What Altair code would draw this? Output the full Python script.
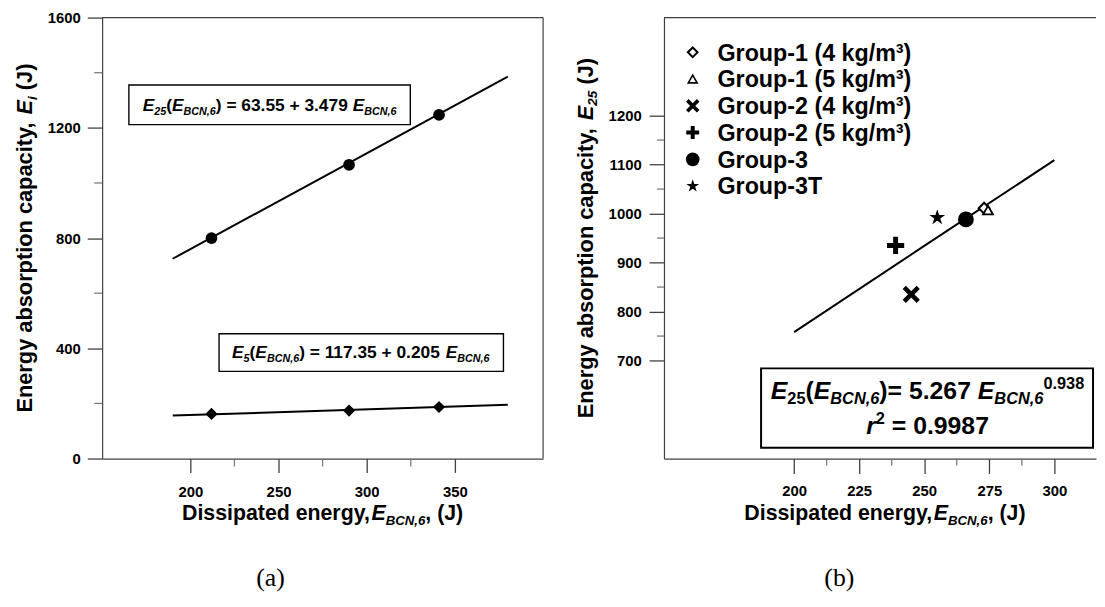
import altair as alt
import pandas as pd

# ---------------- panel (a) data ----------------
a_x = [212, 290, 341]
a_e25 = [800, 1066, 1247]
a_e5 = [162, 174, 187]
a_fit_x = [190, 380]
a_fit_e25 = [725, 1386]
a_fit_e5 = [156, 195]
a_xticks = [200, 250, 300, 350]
a_xminor = [225, 275, 325]
a_yticks = [0, 400, 800, 1200, 1600]
a_yminor = [200, 600, 1000, 1400]

# ---------------- panel (b) data ----------------
groups = ["Group-1 (4 kg/m³)", "Group-1 (5 kg/m³)", "Group-2 (4 kg/m³)",
          "Group-2 (5 kg/m³)", "Group-3", "Group-3T"]
b_x = [273, 274.5, 245, 239, 266, 255]
b_y = [1011, 1007, 835, 935, 988, 992]
b_fit_x = [200, 250, 300]
b_fit_y = [758, 934, 1109]
b_xticks = [200, 225, 250, 275, 300]
b_xminor = [212.5, 237.5, 262.5, 287.5]
b_yticks = [700, 800, 900, 1000, 1100, 1200]
b_yminor = [750, 850, 950, 1050, 1150]

FONT = "Liberation Sans"
SERIF = "Liberation Serif"
AXC = "#404040"
MINC = "#7a7a7a"
ONE = pd.DataFrame({"k": [0]})

W = {' ': 278, '!': 333, '(': 333, ')': 333, '+': 584, ',': 278, '-': 333, '.': 278,
     '/': 278, '=': 584, '³': 333, '²': 333}
for c in "0123456789":
    W[c] = 556
W.update(dict(zip("ABCDEFGHIJKLMNOPQRSTUVWXYZ",
                  [722, 722, 722, 722, 667, 611, 778, 722, 278, 556, 722, 611, 833, 722, 778,
                   667, 778, 722, 667, 611, 722, 667, 944, 667, 667, 611])))
W.update(dict(zip("abcdefghijklmnopqrstuvwxyz",
                  [556, 611, 556, 611, 556, 333, 611, 611, 278, 278, 556, 278, 889, 611, 611,
                   611, 611, 389, 556, 333, 611, 556, 778, 556, 556, 500])))


def tw(s, fs):
    return sum(W.get(c, 556) for c in s) * fs / 1000.0


def rich(segs, cx, cy, size, angle=0, sub=0.62, align="center"):
    parts, total = [], 0.0
    for txt, kind in segs:
        fs = size * (sub if kind in ("sub", "isub", "sup") else 1.0)
        parts.append((txt, kind, fs, total))
        total += tw(txt, fs)
    start = -total / 2 if align == "center" else 0.0
    out = []
    for txt, kind, fs, off in parts:
        lead = len(txt) - len(txt.lstrip(" "))
        off += tw(" " * lead, fs)
        t = txt.strip(" ")
        if not t:
            continue
        if kind in ("sub", "isub"):
            dy = size * 0.22
        elif kind == "sup":
            dy = -size * 0.40
        else:
            dy = 0
        style = "italic" if kind in ("i", "isub") else "normal"
        out.append(
            alt.Chart(ONE).mark_text(
                text=t, font=FONT, fontWeight="bold", fontStyle=style, fontSize=fs,
                align="left", baseline="alphabetic", dx=start + off, dy=dy,
                angle=angle, color="black"
            ).encode(x=alt.value(cx), y=alt.value(cy))
        )
    return out


def box(x1, x2, y1, y2, sw=1.5):
    return alt.Chart(ONE).mark_rect(fill="white", stroke="black", strokeWidth=sw).encode(
        x=alt.value(x1), x2=alt.value(x2), y=alt.value(y1), y2=alt.value(y2))


def hline(x1, x2, y):
    return alt.Chart(ONE).mark_rule(color=AXC, strokeWidth=1.2).encode(
        x=alt.value(x1), x2=alt.value(x2), y=alt.value(y))


def vline(x, y1, y2):
    return alt.Chart(ONE).mark_rule(color=AXC, strokeWidth=1.2).encode(
        x=alt.value(x), y=alt.value(y1), y2=alt.value(y2))


def axis_kw(major, ts, pad):
    return dict(
        values=major, format="d", tickSize=ts,
        labelPadding=pad, title=None, grid=False,
        domain=True, domainColor=AXC, domainWidth=1.2, tickWidth=1.3, tickColor=AXC,
        labelFont=FONT, labelFontWeight="bold", labelFontSize=15, labelColor="black",
        labelFlush=False, labelOverlap=False)


# minor tick glyphs: unit stroke paths, length = sqrt(size)/2
XTICK = "M0,0L0,1"
YTICK = "M0,0L-1,0"

# ================= panel (a) =================
AW, AH = 445, 445
ax_sc = alt.Scale(domain=[150, 400], nice=False, zero=False)
ay_sc = alt.Scale(domain=[0, 1600], nice=False, zero=False)

dfa = pd.DataFrame({"x": a_x, "e25": a_e25, "e5": a_e5})
dfa_fit = pd.DataFrame({"x": a_fit_x, "e25": a_fit_e25, "e5": a_fit_e5})
dfa_xm = pd.DataFrame({"x": a_xminor})
dfa_ym = pd.DataFrame({"e25": a_yminor})

a_base = alt.Chart(dfa_fit).mark_line(color="black", strokeWidth=2).encode(
    x=alt.X("x:Q", scale=ax_sc, axis=alt.Axis(**axis_kw(a_xticks, 14, 12))),
    y=alt.Y("e25:Q", scale=ay_sc, axis=alt.Axis(**axis_kw(a_yticks, 15, 7))),
)
a_line5 = alt.Chart(dfa_fit).mark_line(color="black", strokeWidth=2).encode(
    x=alt.X("x:Q", scale=ax_sc), y=alt.Y("e5:Q", scale=ay_sc))
a_pts25 = alt.Chart(dfa).mark_point(shape="circle", filled=True, color="black", size=140, opacity=1).encode(
    x=alt.X("x:Q", scale=ax_sc), y=alt.Y("e25:Q", scale=ay_sc))
a_pts5 = alt.Chart(dfa).mark_point(shape="diamond", filled=True, color="black", size=150, opacity=1).encode(
    x=alt.X("x:Q", scale=ax_sc), y=alt.Y("e5:Q", scale=ay_sc))
a_xm = alt.Chart(dfa_xm).mark_point(shape=XTICK, stroke=MINC, strokeWidth=1.3, size=256,
                                    opacity=1, strokeOpacity=1).encode(
    x=alt.X("x:Q", scale=ax_sc), y=alt.value(AH))
a_ym = alt.Chart(dfa_ym).mark_point(shape=YTICK, stroke=MINC, strokeWidth=1.3, size=256,
                                    opacity=1, strokeOpacity=1).encode(
    y=alt.Y("e25:Q", scale=ay_sc), x=alt.value(0))

a_layers = [a_base, a_line5, a_pts25, a_pts5, a_xm, a_ym,
            hline(0, AW, 0), vline(AW, 0, AH),
            box(27, 311, 68, 108, 1.4), box(118, 405, 319, 357, 1.4)]
a_layers += rich([("E", "i"), ("25", "isub"), ("(", "n"), ("E", "i"), ("BCN,6", "isub"),
                  (") = 63.55 + 3.479 ", "n"), ("E", "i"), ("BCN,6", "isub")], 169, 94, 17.5)
a_layers += rich([("E", "i"), ("5", "isub"), ("(", "n"), ("E", "i"), ("BCN,6", "isub"),
                  (") = 117.35 + 0.205 ", "n"), ("E", "i"), ("BCN,6", "isub")], 261, 344, 17.5)
a_layers += rich([("Dissipated energy,", "n"), ("E", "i"), ("BCN,6", "isub"), (", (J)", "n")],
                 222.5, 507, 21.5)
a_layers += rich([("Energy absorption capacity, ", "n"), ("E", "i"), ("i", "isub"), (" (J)", "n")],
                 -71, 222.5, 22, angle=270)
a_layers.append(alt.Chart(ONE).mark_text(text="(a)", font=SERIF, fontSize=26, align="center",
                                         baseline="alphabetic", color="black").encode(
    x=alt.value(170), y=alt.value(574)))

left = alt.layer(*a_layers).properties(width=AW, height=AH)

# ================= panel (b) =================
BW, BH = 436, 445
bx_sc = alt.Scale(domain=[150, 316], nice=False, zero=False)
by_sc = alt.Scale(domain=[500, 1400], nice=False, zero=False)

STAR = ("M0,-1L0.2245,-0.309L0.951,-0.309L0.3633,0.118L0.5878,0.809L0,0.382"
        "L-0.5878,0.809L-0.3633,0.118L-0.951,-0.309L-0.2245,-0.309Z")
XPATH = "M-1,-1L1,1M-1,1L1,-1"
PLUS = "M-1,0L1,0M0,-1L0,1"
styles = [
    dict(shape="diamond", fill="white", stroke="black", strokeWidth=2, size=120),
    dict(shape="triangle-up", fill="white", stroke="black", strokeWidth=1.8, size=100),
    dict(shape=XPATH, fill="black", stroke="black", strokeWidth=4.5, size=200),
    dict(shape=PLUS, fill="black", stroke="black", strokeWidth=5, size=300),
    dict(shape="circle", fill="black", stroke="black", strokeWidth=0, size=255),
    dict(shape=STAR, fill="black", stroke="black", strokeWidth=0, size=280),
]
leg_size = [95, 80, 120, 170, 190, 185]
leg_sw = [2, 1.6, 3.6, 4, 0, 0]

dfb = pd.DataFrame({"g": groups, "x": b_x, "y": b_y})
dfb_fit = pd.DataFrame({"x": b_fit_x, "y": b_fit_y})
dfb_xm = pd.DataFrame({"x": b_xminor})
dfb_ym = pd.DataFrame({"y": b_yminor})

b_base = alt.Chart(dfb_fit).mark_line(color="black", strokeWidth=2).encode(
    x=alt.X("x:Q", scale=bx_sc, axis=alt.Axis(**axis_kw(b_xticks, 15, 10))),
    y=alt.Y("y:Q", scale=by_sc, axis=alt.Axis(**axis_kw(b_yticks, 15, 8))),
)
b_layers = [b_base]
for i, g in enumerate(groups):
    st = styles[i]
    b_layers.append(
        alt.Chart(dfb[dfb.g == g]).mark_point(
            shape=st["shape"], fill=st["fill"], stroke=st["stroke"], strokeWidth=st["strokeWidth"],
            size=st["size"], opacity=1, fillOpacity=1, strokeOpacity=1
        ).encode(x=alt.X("x:Q", scale=bx_sc), y=alt.Y("y:Q", scale=by_sc))
    )
b_layers.append(alt.Chart(dfb_xm).mark_point(shape=XTICK, stroke=MINC, strokeWidth=1.3, size=196,
                                             opacity=1, strokeOpacity=1).encode(
    x=alt.X("x:Q", scale=bx_sc), y=alt.value(BH)))
b_layers.append(alt.Chart(dfb_ym).mark_point(shape=YTICK, stroke=MINC, strokeWidth=1.3, size=196,
                                             opacity=1, strokeOpacity=1).encode(
    y=alt.Y("y:Q", scale=by_sc), x=alt.value(0)))
b_layers.append(hline(0, BW, 0))

# legend (drawn manually)
for i, g in enumerate(groups):
    st = styles[i]
    yc = 35 + 27 * i
    b_layers.append(alt.Chart(ONE).mark_point(
        shape=st["shape"], fill=st["fill"], stroke=st["stroke"], strokeWidth=leg_sw[i],
        size=leg_size[i], opacity=1, fillOpacity=1, strokeOpacity=1
    ).encode(x=alt.value(29), y=alt.value(yc)))
    b_layers.append(alt.Chart(ONE).mark_text(
        text=g, font=FONT, fontWeight="bold", fontSize=23.5, align="left", baseline="alphabetic",
        color="black").encode(x=alt.value(54), y=alt.value(yc + 8.4)))

b_layers.append(box(98, 433, 354, 434, 2))
b_layers += rich([("E", "i"), ("25", "sub"), ("(", "n"), ("E", "i"), ("BCN,6", "isub"),
                  (")= 5.267 ", "n"), ("E", "i"), ("BCN,6", "isub"), ("0.938", "sup")],
                 266, 384.5, 25, sub=0.66)
b_layers += rich([("r", "i"), ("2", "sup"), (" = 0.9987", "n")], 266, 420.5, 25, sub=0.66)
b_layers += rich([("Dissipated energy,", "n"), ("E", "i"), ("BCN,6", "isub"), (", (J)", "n")],
                 223, 507, 21.5)
b_layers += rich([("Energy absorption capacity, ", "n"), ("E", "i"), ("25", "isub"), (" (J)", "n")],
                 -72, 222.5, 22, angle=270)
b_layers.append(alt.Chart(ONE).mark_text(text="(b)", font=SERIF, fontSize=26, align="center",
                                         baseline="alphabetic", color="black").encode(
    x=alt.value(177), y=alt.value(574)))

right = alt.layer(*b_layers).properties(width=BW, height=BH)

chart = alt.hconcat(left, right, spacing=122, bounds="flush").properties(
    padding={"left": 5, "top": 0, "right": 0, "bottom": 0}
).configure_view(stroke=None)

chart.save("out.html", embed_options={"renderer": "svg", "actions": False})
